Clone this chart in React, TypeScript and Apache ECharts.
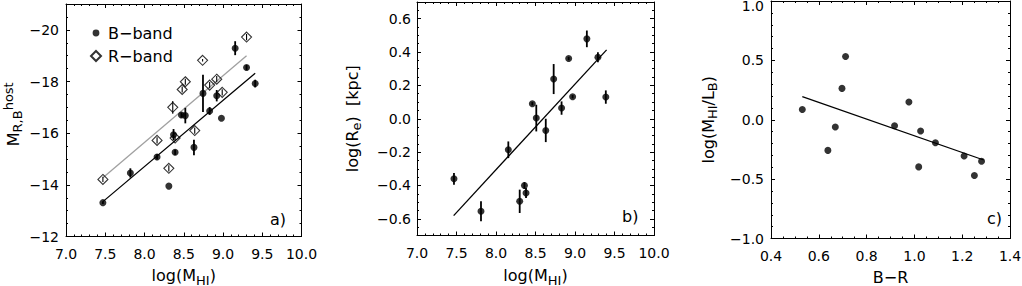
import React, { useEffect, useRef } from 'react';
import * as echarts from 'echarts';

const FONT = '"DejaVu Sans", Verdana, sans-serif';

// ---------- Panel a: absolute magnitude vs log(M_HI) ----------
const aLogMHI_B = [7.47, 7.82, 8.16, 8.31, 8.37, 8.39, 8.47, 8.52, 8.63, 8.745, 8.83, 8.92, 8.98, 9.155, 9.30, 9.41];
const aMag_B = [-13.31, -14.46, -15.08, -13.95, -15.94, -15.26, -16.70, -16.68, -15.45, -17.54, -16.86, -17.45, -16.58, -19.29, -18.54, -17.92];
const aErr_B = [0.05, 0.18, 0.1, 0, 0.22, 0.1, 0.1, 0.3, 0.3, 0.72, 0.15, 0.22, 0, 0.27, 0.1, 0.15];
const aLogMHI_R = [7.47, 8.16, 8.31, 8.36, 8.39, 8.48, 8.52, 8.64, 8.74, 8.83, 8.92, 8.99, 9.30];
const aMag_R = [-14.21, -15.72, -14.64, -17.0, -15.81, -17.69, -17.99, -16.10, -18.82, -17.86, -18.09, -17.58, -19.72];
const aErr_R = [0.1, 0.12, 0.12, 0.25, 0.1, 0.12, 0.12, 0.12, 0.05, 0.12, 0.12, 0.12, 0.12];
const aFitX_B = [7.47, 9.41];
const aFitY_B = [-13.35, -18.32];
const aFitX_R = [7.47, 9.30];
const aFitY_R = [-14.27, -19.0];
const aXTicks = [7.0, 7.5, 8.0, 8.5, 9.0, 9.5, 10.0];
const aYTicks = [-20, -18, -16, -14, -12];

// ---------- Panel b: log(Re) vs log(M_HI) ----------
const bLogMHI = [7.468, 7.81, 8.156, 8.30, 8.36, 8.38, 8.46, 8.51, 8.63, 8.73, 8.83, 8.92, 8.97, 9.15, 9.29, 9.39];
const bLogRe = [-0.36, -0.555, -0.186, -0.495, -0.40, -0.445, 0.09, 0.004, -0.07, 0.238, 0.064, 0.361, 0.132, 0.479, 0.369, 0.13];
const bErr = [0.035, 0.06, 0.05, 0.07, 0.02, 0.03, 0.01, 0.08, 0.07, 0.09, 0.04, 0.01, 0.01, 0.05, 0.03, 0.04];
const bFitX = [7.464, 9.40];
const bFitY = [-0.581, 0.413];
const bXTicks = [7.0, 7.5, 8.0, 8.5, 9.0, 9.5, 10.0];
const bYTicks = [-0.6, -0.4, -0.2, 0.0, 0.2, 0.4, 0.6];

// ---------- Panel c: log(M_HI/L_B) vs B-R ----------
const cBR = [0.531, 0.638, 0.669, 0.697, 0.712, 0.917, 0.977, 1.018, 1.026, 1.088, 1.208, 1.251, 1.281];
const cLogMHILB = [0.086, -0.258, -0.061, 0.264, 0.533, -0.05, 0.15, -0.397, -0.094, -0.194, -0.306, -0.469, -0.35];
const cFitX = [0.531, 1.29];
const cFitY = [0.194, -0.339];
const cXTicks = [0.4, 0.6, 0.8, 1.0, 1.2, 1.4];
const cYTicks = [-1.0, -0.5, 0.0, 0.5, 1.0];

const MINUS = '\u2212';

function fmt(dec: number, topValue?: number) {
  return (v: number) => {
    const r = Math.round(v * 1000) / 1000;
    const s = r === 0 ? (0).toFixed(dec) : (r < 0 ? MINUS : '') + Math.abs(r).toFixed(dec);
    return topValue !== undefined && r === topValue ? '{t|' + s + '}' : s;
  };
}

const richStyles = {
  n: { fontSize: 16, lineHeight: 22, verticalAlign: 'middle', fontFamily: FONT, color: '#000' },
  s: { fontSize: 13, lineHeight: 14, verticalAlign: 'bottom', fontFamily: FONT, color: '#000' },
  p: { fontSize: 13, lineHeight: 9, verticalAlign: 'top', fontFamily: FONT, color: '#000' },
};
const nameStyle = { fontSize: 16, fontFamily: FONT, color: '#000', rich: richStyles };
const tickStyle = { color: '#000', width: 1 };
const labelRich = { t: { fontSize: 14, fontFamily: FONT, color: '#000', padding: [9, 0, 0, 0] } };

interface AxisCfg {
  dim: 'x' | 'y';
  min: number;
  max: number;
  minor: number;
  majors: number[];
  fmt: (v: number) => string;
  margin: number;
  name: string;
  nameGap: number;
  inverse?: boolean;
  namePad?: number[];
}

function axisGroup(gridIndex: number, c: AxisCfg) {
  const isX = c.dim === 'x';
  const p0 = isX ? 'bottom' : 'left';
  const p1 = isX ? 'top' : 'right';
  const base = {
    type: 'value',
    gridIndex,
    min: c.min,
    max: c.max,
    inverse: !!c.inverse,
    interval: c.minor,
    splitLine: { show: false },
    silent: true,
  };
  const mk = (pos: string, withLine: boolean, major: boolean, withLabel: boolean) => ({
    ...base,
    position: pos,
    axisLine: { show: withLine, onZero: false, lineStyle: { color: '#000', width: 1 } },
    axisTick: major
      ? { show: true, inside: true, length: 4, customValues: c.majors, lineStyle: tickStyle }
      : { show: true, inside: true, length: 2, lineStyle: tickStyle },
    axisLabel: withLabel
      ? {
          show: true,
          customValues: c.majors,
          formatter: c.fmt,
          margin: c.margin,
          color: '#000',
          fontSize: 14,
          fontFamily: FONT,
          rich: labelRich,
        }
      : { show: false },
    ...(withLabel
      ? {
          name: c.name,
          nameLocation: 'middle',
          nameGap: c.nameGap,
          nameTextStyle: { ...nameStyle, padding: c.namePad || 0 },
        }
      : {}),
  });
  return [mk(p0, true, false, true), mk(p0, false, true, false), mk(p1, true, false, false), mk(p1, false, true, false)];
}

const zip2 = (xs: number[], ys: number[]) => xs.map((x, i) => [x, ys[i]]);
const zip3 = (xs: number[], ys: number[], es: number[]) => xs.map((x, i) => [x, ys[i], es[i]]);

function errorBars(gi: number, data: number[][], width: number) {
  return {
    type: 'custom',
    xAxisIndex: gi * 4,
    yAxisIndex: gi * 4,
    data,
    encode: { x: 0, y: 1 },
    silent: true,
    z: 3,
    renderItem: (_params: any, api: any) => {
      const x = api.value(0);
      const y = api.value(1);
      const e = api.value(2);
      if (!e) return null;
      const p1 = api.coord([x, y - e]);
      const p2 = api.coord([x, y + e]);
      return {
        type: 'line',
        shape: { x1: p1[0], y1: p1[1], x2: p2[0], y2: p2[1] },
        style: { stroke: '#000', lineWidth: width },
      };
    },
  };
}

function fitLine(gi: number, xs: number[], ys: number[], color: string) {
  return {
    type: 'line',
    xAxisIndex: gi * 4,
    yAxisIndex: gi * 4,
    data: zip2(xs, ys),
    symbol: 'none',
    silent: true,
    lineStyle: { color, width: 1.3 },
    z: 2,
  };
}

function dots(gi: number, name: string, data: number[][]) {
  return {
    type: 'scatter',
    name,
    xAxisIndex: gi * 4,
    yAxisIndex: gi * 4,
    data,
    symbol: 'circle',
    symbolSize: 7,
    itemStyle: { color: '#000' },
    silent: true,
    z: 4,
  };
}

const SMALL_DOT = 'path://M0 0M10 10M8.4 5A3.4 3.4 0 1 1 1.6 5A3.4 3.4 0 1 1 8.4 5Z';

export default function App() {
  const ref = useRef<HTMLDivElement>(null);
  useEffect(() => {
    const chart = echarts.init(ref.current!, null, { renderer: 'svg' });
    const xAxis = [
      ...axisGroup(0, { dim: 'x', min: 7, max: 10, minor: 0.1, majors: aXTicks, fmt: fmt(1), margin: 10, name: '{n|log(M}{s|HI}{n|)}', nameGap: 28 }),
      ...axisGroup(1, { dim: 'x', min: 7, max: 10, minor: 0.1, majors: bXTicks, fmt: fmt(1), margin: 10, name: '{n|log(M}{s|HI}{n|)}', nameGap: 29 }),
      ...axisGroup(2, { dim: 'x', min: 0.4, max: 1.4, minor: 0.05, majors: cXTicks, fmt: fmt(1), margin: 10, name: '{n|B\u2212R}', nameGap: 28 }),
    ];
    const yAxis = [
      ...axisGroup(0, { dim: 'y', min: -21, max: -12, minor: 0.5, majors: aYTicks, fmt: fmt(0), margin: 7, name: '{n|M}{s|R,B}{p|host}', nameGap: 42, inverse: true, namePad: [0, 0, 0, 12] }),
      ...axisGroup(1, { dim: 'y', min: -0.7, max: 0.7, minor: 0.05, majors: bYTicks, fmt: fmt(1), margin: 6, name: '{n|log(R}{s|e}{n|)  [kpc]}', nameGap: 54 }),
      ...axisGroup(2, { dim: 'y', min: -1, max: 1, minor: 0.1, majors: cYTicks, fmt: fmt(1, 1), margin: 7, name: '{n|log(M}{s|HI}{n|/L}{s|B}{n|)}', nameGap: 52 }),
    ];
    const series = [
      // panel a
      fitLine(0, aFitX_R, aFitY_R, '#a0a0a0'),
      fitLine(0, aFitX_B, aFitY_B, '#000'),
      errorBars(0, zip3(aLogMHI_B, aMag_B, aErr_B), 1.8),
      errorBars(0, zip3(aLogMHI_R, aMag_R, aErr_R), 1.1),
      dots(0, 'B\u2212band', zip2(aLogMHI_B, aMag_B)),
      {
        type: 'scatter',
        name: 'R\u2212band',
        xAxisIndex: 0,
        yAxisIndex: 0,
        data: zip2(aLogMHI_R, aMag_R),
        symbol: 'diamond',
        symbolSize: 10,
        itemStyle: { color: 'rgba(0,0,0,0)', borderColor: '#000', borderWidth: 1.1 },
        silent: true,
        z: 5,
      },
      // panel b
      fitLine(1, bFitX, bFitY, '#000'),
      errorBars(1, zip3(bLogMHI, bLogRe, bErr), 1.8),
      dots(1, 'b', zip2(bLogMHI, bLogRe)),
      // panel c
      fitLine(2, cFitX, cFitY, '#000'),
      dots(2, 'c', zip2(cBR, cLogMHILB)),
    ];
    const option = {
      animation: false,
      backgroundColor: '#fff',
      grid: [
        { left: 66, top: 4, width: 235.5, height: 232.5, outerBoundsMode: 'none', containLabel: false },
        { left: 417, top: 2, width: 237, height: 233.5, outerBoundsMode: 'none', containLabel: false },
        { left: 771, top: 1, width: 239, height: 237.5, outerBoundsMode: 'none', containLabel: false },
      ],
      xAxis,
      yAxis,
      legend: {
        data: [
          { name: 'B\u2212band', icon: SMALL_DOT },
          { name: 'R\u2212band', icon: 'diamond' },
        ],
        orient: 'vertical',
        left: 85,
        top: 20,
        itemGap: 7,
        itemWidth: 10,
        itemHeight: 10,
        selectedMode: false,
        textStyle: { fontSize: 16, fontFamily: FONT, color: '#000', padding: [0, 0, 0, 2] },
      },
      graphic: [
        { type: 'text', left: 270, top: 211, style: { text: 'a)', fontSize: 16, fontFamily: FONT, fill: '#000' } },
        { type: 'text', left: 622, top: 208, style: { text: 'b)', fontSize: 16, fontFamily: FONT, fill: '#000' } },
        { type: 'text', left: 987, top: 210, style: { text: 'c)', fontSize: 16, fontFamily: FONT, fill: '#000' } },
      ],
      series,
    };
    chart.setOption(option as any);
    return () => chart.dispose();
  }, []);
  return (
    <div
      ref={ref}
      style={{ position: 'fixed', left: 0, top: 0, width: 1022, height: 286, background: '#fff' }}
    />
  );
}
